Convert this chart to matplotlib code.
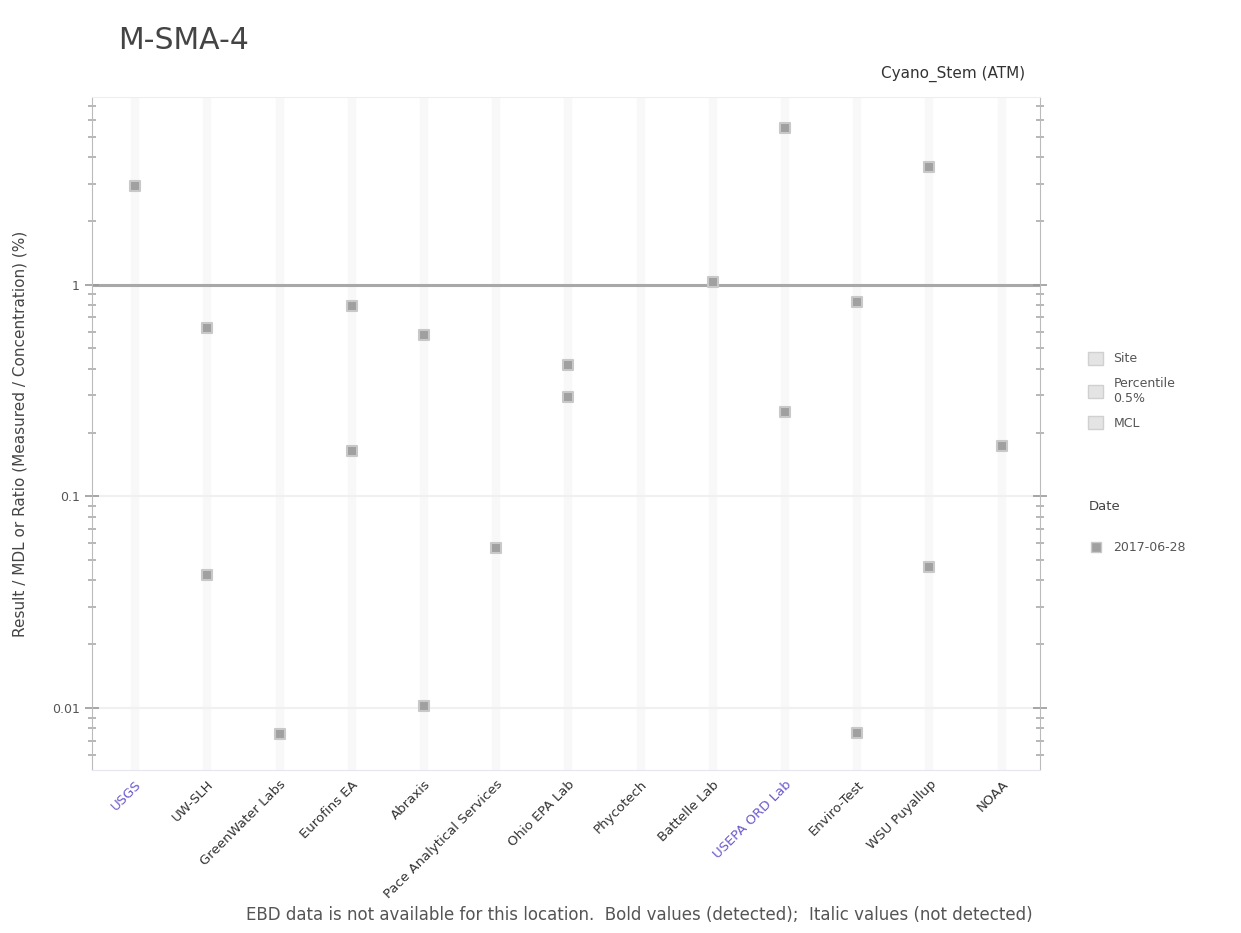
import numpy as np
import matplotlib
matplotlib.use("Agg")
import matplotlib.pyplot as plt
from matplotlib.ticker import LogLocator, NullFormatter, FixedFormatter, FixedLocator
from matplotlib.lines import Line2D
from matplotlib.patches import Patch

# categories (x axis)
labs = ["USGS", "UW-SLH", "GreenWater Labs", "Eurofins EA", "Abraxis",
        "Pace Analytical Services", "Ohio EPA Lab", "Phycotech", "Battelle Lab",
        "USEPA ORD Lab", "Enviro-Test", "WSU Puyallup", "NOAA"]
blue_labs = ["USGS", "USEPA ORD Lab"]

# points: (category index, ratio)
pt_cat = [0, 1, 1, 2, 3, 3, 4, 4, 5, 6, 6, 8, 9, 9, 10, 10, 11, 11, 12]
pt_val = [2.94, 0.626, 0.0425, 0.0075, 0.796, 0.164, 0.58, 0.0102, 0.0571,
          0.419, 0.295, 1.03, 5.5, 0.251, 0.83, 0.0076, 3.6, 0.0464, 0.173]

fig = plt.figure(figsize=(12.41, 9.33), dpi=100)
ax = fig.add_axes([0.074, 0.175, 0.764, 0.721])

x = np.arange(len(labs))
for xi in x:
    ax.axvline(xi, color="#f8f8f8", lw=6, zorder=0)
for yv in [0.01, 0.1]:
    ax.axhline(yv, color="#f0f0f0", lw=1.5, zorder=0)
ax.axhline(1, color="#a8a8a8", lw=2.2, zorder=1)

ax.scatter(pt_cat, pt_val, s=55, marker="s", color="#a0a0a0",
           edgecolor="#c8c8c8", lw=1.5, zorder=3)

ax.set_yscale("log")
ax.set_ylim(0.0051, 7.7)
ax.set_xlim(-0.6, 12.53)

ax.yaxis.set_major_locator(FixedLocator([0.01, 0.1, 1]))
ax.yaxis.set_major_formatter(FixedFormatter(["0.01", "0.1", "1"]))
ax.yaxis.set_minor_locator(LogLocator(base=10, subs=np.arange(2, 10)))
ax.yaxis.set_minor_formatter(NullFormatter())
ax.tick_params(axis="y", which="major", length=10, width=1.2, color="#999999",
               labelsize=9, labelcolor="#555555", right=True, direction="inout")
ax.tick_params(axis="y", which="minor", length=6, width=1.2, color="#aaaaaa",
               right=True, direction="inout")

ax.set_xticks(x)
ax.set_xticklabels(labs, rotation=45, ha="right", rotation_mode="anchor",
                   fontsize=9.5, color="#333333")
for t in ax.get_xticklabels():
    if t.get_text() in blue_labs:
        t.set_color("#6a5acd")
ax.tick_params(axis="x", length=0, pad=6)

ax.spines["top"].set_color("#eeeeee")
for s in ["left", "right"]:
    ax.spines[s].set_color("#bbbbbb")
ax.spines["bottom"].set_color("#e6e6f0")

ax.set_ylabel("Result / MDL or Ratio (Measured / Concentration) (%)",
              fontsize=11, color="#444444", labelpad=18)

fig.text(0.095, 0.957, "M-SMA-4", fontsize=21.5, color="#444444", va="center")
fig.text(0.826, 0.921, "Cyano_Stem (ATM)", fontsize=11, color="#333333",
         ha="right", va="center")
fig.text(0.515, 0.019,
         "EBD data is not available for this location.  Bold values (detected);  Italic values (not detected)",
         fontsize=12, color="#555555", ha="center", va="center")

h1 = [Patch(facecolor="#e4e4e4", edgecolor="#d0d0d0"),
      Patch(facecolor="#e4e4e4", edgecolor="#d0d0d0"),
      Patch(facecolor="#e4e4e4", edgecolor="#d0d0d0")]
leg1 = fig.legend(h1, ["Site", "Percentile\n0.5%", "MCL"], loc="upper left",
                  bbox_to_anchor=(0.868, 0.635), frameon=False, fontsize=9,
                  handlelength=1.2, handleheight=1.2, labelspacing=0.9)
for t in leg1.get_texts():
    t.set_color("#555555")

fig.text(0.877, 0.457, "Date", fontsize=9.5, color="#444444", va="center")
h2 = [Line2D([], [], marker="s", ls="none", ms=7, color="#a0a0a0",
             markeredgecolor="#c8c8c8")]
leg2 = fig.legend(h2, ["2017-06-28"], loc="center left",
                  bbox_to_anchor=(0.868, 0.413), frameon=False, fontsize=9,
                  handlelength=1.2)
for t in leg2.get_texts():
    t.set_color("#555555")

fig.savefig("out.png", dpi=100)
